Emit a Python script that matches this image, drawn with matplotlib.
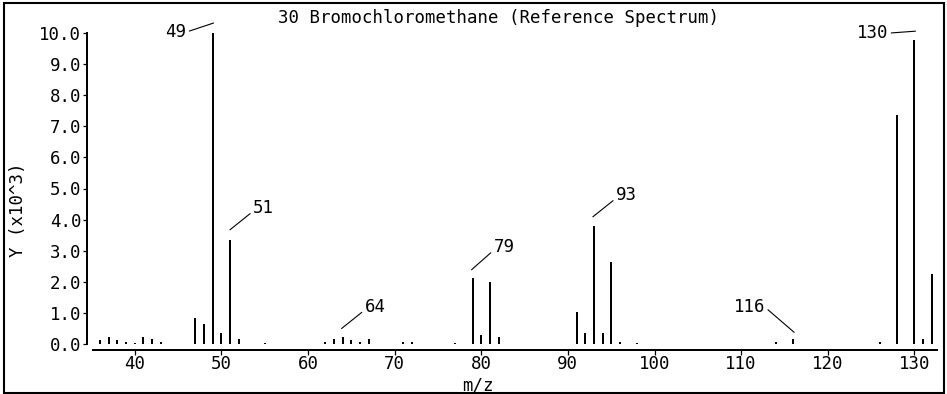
import matplotlib
matplotlib.use("Agg")
import matplotlib.pyplot as plt
from matplotlib.transforms import offset_copy
from matplotlib.patches import Rectangle

# ---- data ----
mz = [36, 37, 38, 39, 40, 41, 42, 43, 47, 48, 49, 50, 51, 52, 55,
      62, 63, 64, 65, 66, 67, 71, 72, 77, 79, 80, 81, 82,
      91, 92, 93, 94, 95, 96, 98, 114, 116, 126, 128, 130, 131, 132]
intensity = [0.13, 0.22, 0.13, 0.07, 0.04, 0.22, 0.15, 0.05, 0.84, 0.65, 10.0, 0.35, 3.35, 0.17, 0.04,
             0.08, 0.15, 0.24, 0.12, 0.08, 0.15, 0.06, 0.06, 0.04, 2.13, 0.30, 2.00, 0.22,
             1.03, 0.35, 3.80, 0.35, 2.63, 0.08, 0.04, 0.06, 0.15, 0.06, 7.35, 9.77, 0.15, 2.25]
label_mz = [49, 51, 64, 79, 93, 116, 130]
x_ticks = [40, 50, 60, 70, 80, 90, 100, 110, 120, 130]
y_ticks = [0, 1, 2, 3, 4, 5, 6, 7, 8, 9, 10]
title = "30 Bromochloromethane (Reference Spectrum)"
xlabel = "m/z"
ylabel = "Y (x10^3)"

# label line styling: (near-end offset from peak top px, far-end offset from near end px, ha)
label_style = {
    49: ((1, 10), (-27, -9), "right"),
    51: ((0, 10), (23, 22), "left"),
    64: ((-1, 8), (23, 22), "left"),
    79: ((-1, 8), (22, 23), "left"),
    93: ((-1, 9), (23, 22), "left"),
    116: ((1, 7), (-29, 25), "right"),
    130: ((1, 9), (-27, -2), "right"),
}

W, H = 947, 394
fig = plt.figure(figsize=(W / 100, H / 100), dpi=100)
fig.patch.set_facecolor("white")
font = "DejaVu Sans Mono"
fs = 12.5

ax = fig.add_axes([93 / W, 1 - 344 / H, (937 - 93) / W, (344 - 33) / H])
ax.set_xlim(35.2, 132.6)
ax.set_ylim(0, 10)

ax.vlines(mz, 0, intensity, colors="black", linewidth=1.44, clip_on=False)

for s in ["top", "right"]:
    ax.spines[s].set_visible(False)
for s in ["left", "bottom"]:
    ax.spines[s].set_position(("outward", 6 * 0.72))
    ax.spines[s].set_linewidth(1.44)

ax.set_xticks(x_ticks)
ax.set_xticklabels([str(v) for v in x_ticks], fontfamily=font, fontsize=fs)
ax.set_yticks(y_ticks)
ax.set_yticklabels(["%.1f" % v for v in y_ticks], fontfamily=font, fontsize=fs)
ax.tick_params(axis="x", direction="out", length=3.6, width=0.9, pad=0.3)
ax.tick_params(axis="y", direction="out", length=3.2, width=0.9, pad=1)

lookup = dict(zip(mz, intensity))
for m in label_mz:
    (ndx, ndy), (fdx, fdy), ha = label_style[m]
    tr = offset_copy(ax.transData, fig=fig, x=ndx, y=ndy, units="dots")
    relpos = (1.0, 0.5) if ha == "right" else (0.0, 0.3)
    ax.annotate(str(m), xy=(m, lookup[m]), xycoords=tr,
                xytext=(fdx, fdy), textcoords="offset pixels",
                ha=ha, va="center", fontfamily=font, fontsize=fs,
                annotation_clip=False,
                arrowprops=dict(arrowstyle="-", lw=0.8, color="black",
                                shrinkA=0, shrinkB=0, relpos=relpos))

fig.text(499 / W, 1 - 18 / H, title, ha="center", va="center", fontfamily=font, fontsize=fs)
fig.text(478 / W, 1 - 386 / H, xlabel, ha="center", va="center", fontfamily=font, fontsize=fs)
fig.text(18 / W, 1 - 210 / H, ylabel, ha="center", va="center", rotation=90,
         fontfamily=font, fontsize=fs)

fig.add_artist(Rectangle((4 / W, 1 / H), (944 - 4) / W, (391 - 1) / H,
                         transform=fig.transFigure, fill=False,
                         edgecolor="black", linewidth=1.5))

fig.savefig("out.png", dpi=100)
